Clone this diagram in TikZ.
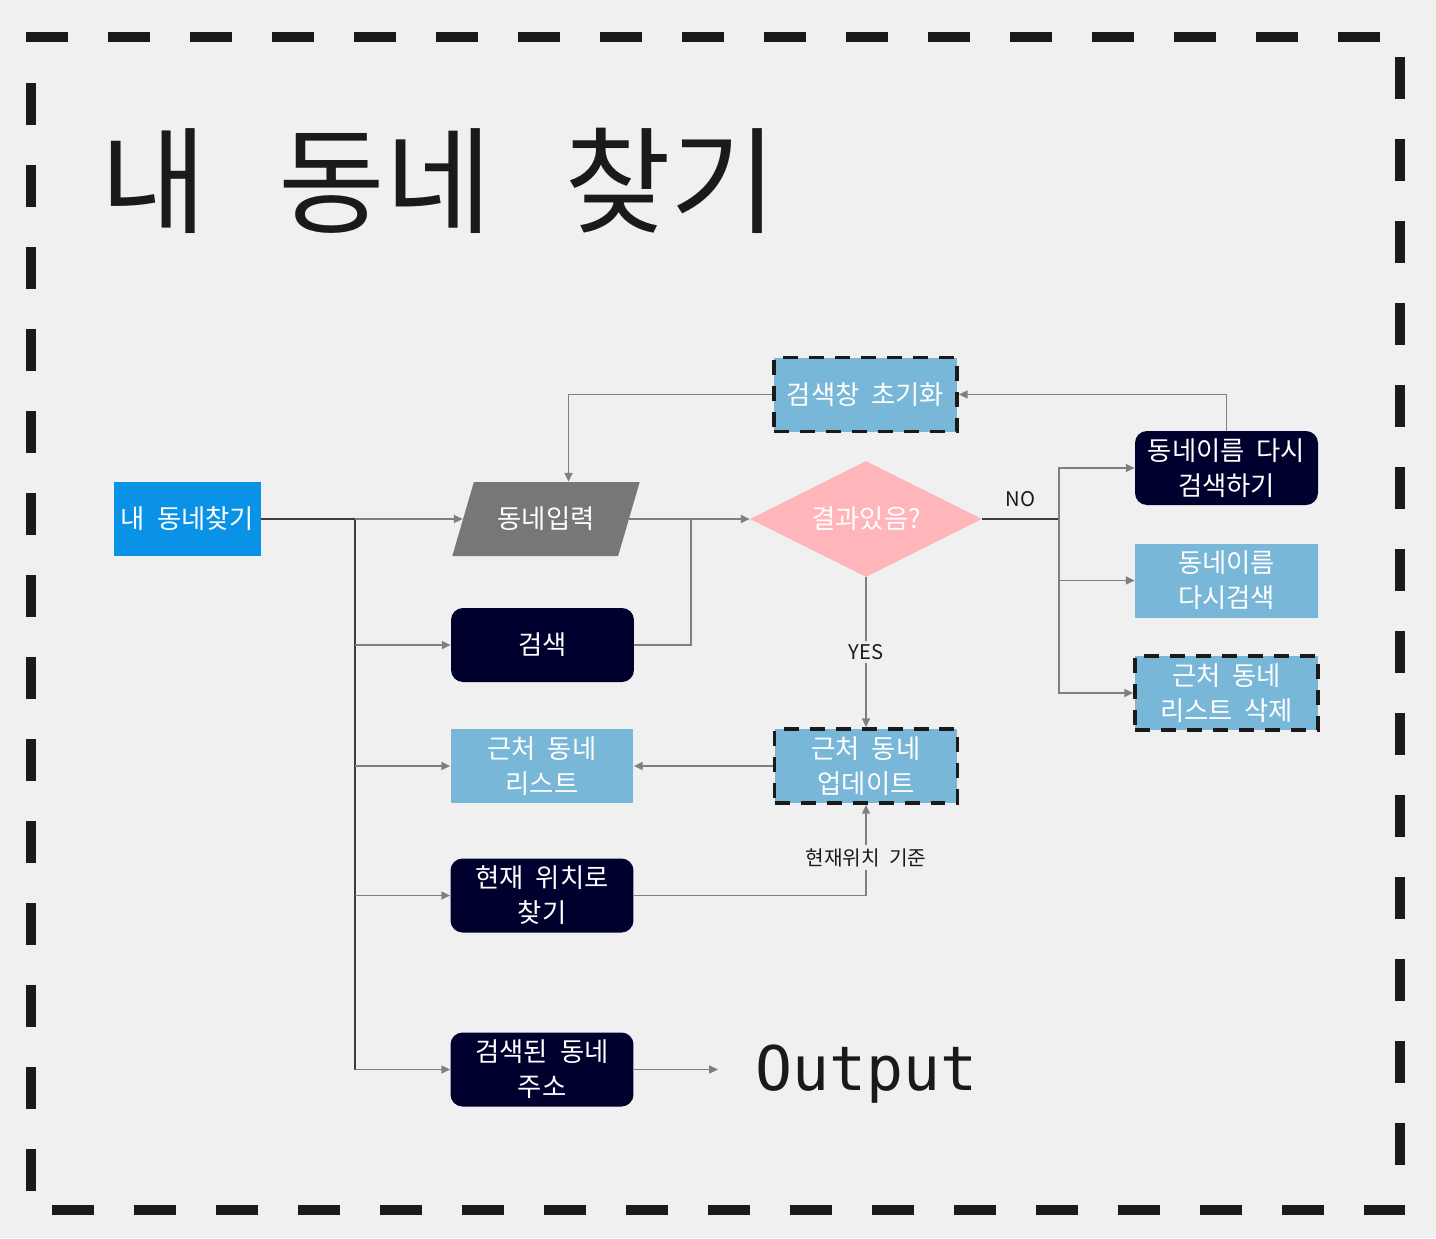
\documentclass[tikz,border=0pt]{standalone}
\usepackage{fontspec}
\setmainfont[WordSpace=2]{Noto Sans CJK KR}
\newfontfamily\monofont{DejaVu Sans Mono}
\usetikzlibrary{shapes.geometric,arrows.meta}
\definecolor{bgray}{HTML}{F0F0F0}
\definecolor{startblue}{HTML}{0A93E6}
\definecolor{navy}{HTML}{00002E}
\definecolor{lblue}{HTML}{78B7D7}
\definecolor{igray}{HTML}{777777}
\definecolor{dpink}{HTML}{FFB5B9}
\definecolor{ink}{HTML}{1A1A1A}
\definecolor{wiregray}{HTML}{7F7F7F}

\begin{document}
\begin{tikzpicture}[x=0.02cm,y=-0.02cm,
	every node/.style={font=\fontsize{15}{20}\selectfont, text=white, align=center, inner sep=0pt},
	box/.style={rectangle, minimum width=3.66cm, minimum height=1.48cm},
	proc/.style={box, fill=navy, rounded corners=0.24cm},
	plain/.style={box, fill=lblue},
	dbox/.style={box, fill=lblue, draw=ink, line width=0.075cm, dash pattern=on 0.3cm off 0.22cm},
	wire/.style={draw=wiregray, line width=0.9pt, -{Triangle[length=5pt,width=4.5pt]}},
	trunk/.style={draw=ink!85, line width=1.1pt},
	lbl/.style={text=ink, font=\fontsize{11.5}{14}\selectfont, inner sep=2pt}]

	\fill[bgray] (0,0) rectangle (1436,1238);
	\useasboundingbox (0,0) rectangle (1436,1238);
	\draw[ink, line width=0.2cm, dash pattern=on 0.84cm off 0.8cm, dash phase=1.22cm]
		(31,63) -- (31,37) -- (1400,37) -- (1400,1210) -- (31,1210) -- cycle;

	\node[text=ink, font=\fontsize{66}{72}\selectfont, anchor=west] (title) at (100,181)
		{내\hspace{0.62em}동네\hspace{0.62em}찾기};

	% left column
	\node[fill=startblue, minimum width=2.94cm, minimum height=1.48cm] (start) at (187.5,519) {내 동네찾기};
	\node[trapezium, trapezium left angle=58.7, trapezium right angle=121.3, trapezium stretches=true,
		fill=igray, minimum width=3.76cm, minimum height=1.48cm] (input) at (546,519) {동네입력};
	\node[proc] (search) at (542.5,645) {검색};
	\node[plain] (list) at (542,766) {근처 동네\\리스트};
	\node[proc] (here) at (542,895.5) {현재 위치로\\찾기};
	\node[proc] (addr) at (542,1069.5) {검색된 동네\\주소};
	\node[text=ink, font=\monofont\fontsize{35}{40}\selectfont, anchor=base west] (out) at (755,1090) {Output};

	% middle column
	\node[dbox] (reset) at (865.5,394.5) {검색창 초기화};
	\node[diamond, fill=dpink, minimum width=4.64cm, minimum height=2.32cm, aspect=2] (check) at (866,519) {결과있음?};
	\node[dbox] (update) at (866,766) {근처 동네\\업데이트};

	% right column
	\node[proc] (again) at (1226.5,468) {동네이름 다시\\검색하기};
	\node[plain] (retry) at (1226.5,580.5) {동네이름\\다시검색};
	\node[dbox] (del) at (1226.5,693) {근처 동네\\리스트 삭제};

	\coordinate (fork) at (355,519);
	\coordinate (join) at (691,519);
	\coordinate (nofork) at (1059,519);
	\coordinate (outtip) at (718,1069.5);

	\draw[trunk] (start.east) -- (fork) -- (fork |- addr.west);
	\draw[wire] (fork) -- (fork -| input.west);
	\draw[wire] (fork |- search.west) -- (search.west);
	\draw[wire] (fork |- list.west) -- (list.west);
	\draw[wire] (fork |- here.west) -- (here.west);
	\draw[wire] (fork |- addr.west) -- (addr.west);

	\draw[wire] (join -| input.east) -- (check.west);
	\draw[wire, -] (search.east) -| (join);
	\draw[wire] (reset.west) -| ([xshift=0.45cm]input.north);
	\draw[wire] (again.north) |- (reset.east);

	\draw[trunk] (check.east) -- node[lbl, above=0.15cm] {NO} (nofork);
	\draw[wire] (nofork) |- (again.west);
	\draw[wire] (nofork) |- (retry.west);
	\draw[wire] (nofork) |- (del.west);

	\draw[wire] (check.south) -- node[lbl, fill=bgray] {YES} (update.north);
	\draw[wire] (update.west) -- (list.east);
	\draw[wire] (here.east) -| node[lbl, fill=bgray, pos=0.71] {현재위치 기준} (update.south);
	\draw[wire] (addr.east) -- (outtip);

\end{tikzpicture}
\end{document}
